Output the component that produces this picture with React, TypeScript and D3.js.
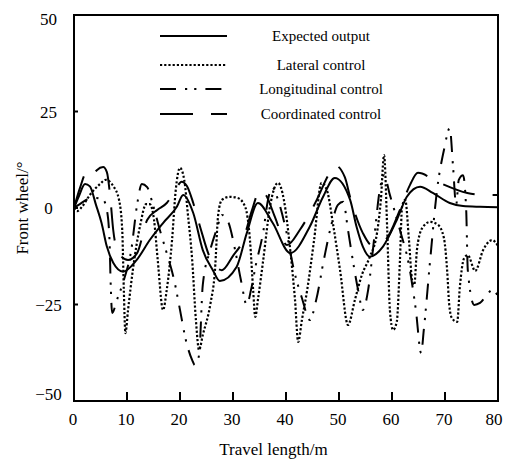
import React from "react";
import * as d3 from "d3";

const xTicks = [0, 10, 20, 30, 40, 50, 60, 70, 80];
const yTicks = [-50, -25, 0, 25, 50];

const seriesNames = ["Expected output", "Lateral control", "Longitudinal control", "Coordinated control"];

const expected: [number, number][] = [
  [0, 0], [0.94, 3.1], [2.08, 6.2], [3.0, 5.6], [4.15, 0.8], [5.2, -3.9], [6.2, -10.0], [7.4, -14.2],
  [9.25, -16.5], [11.8, -13.5], [14.3, -8.3], [16.8, -3.9], [19.4, 0.3], [20.6, 3.4], [22.5, -1.3],
  [24.3, -10.9], [26.2, -16.1], [27.5, -18.9], [30.7, -15.2], [32.6, -6.5], [34.7, 1.3], [37.5, -3.9],
  [40.8, -11.7], [44.5, -4.8], [47.0, 2.9], [49.2, 7.8], [52.1, 2.1], [53.3, -4.8], [54.5, -10.0],
  [55.8, -12.6], [58.3, -10.0], [60.9, -3.1], [62.8, 2.9], [65.3, 5.5], [67.7, 3.9], [70.9, 1.3],
  [73.4, 0.5], [76.6, 0.3], [80, 0.2],
];

const lateral: [number, number][] = [
  [0, 0], [0.57, -0.8], [1.5, 0.3], [3.0, 3.4], [4.9, 6.2], [6.0, 7.3], [7.4, 5.7], [8.5, 2.1],
  [9.1, -5.7], [9.4, -21.2], [9.7, -32.4], [10.2, -26.4], [11.1, -16.1], [12.5, -4.4], [13.6, 1.0],
  [14.3, 1.0], [15.1, -3.1], [15.8, -13.5], [16.8, -26.4], [17.5, -21.2], [18.5, -8.3], [19.2, 4.7],
  [20.0, 10.4], [20.8, 7.3], [21.5, -1.8], [22.3, -13.5], [23.0, -29.0], [23.6, -36.8], [24.3, -32.9],
  [25.7, -25.1], [26.6, -16.1], [27.2, -1.8], [27.9, 2.1], [29.4, 2.9], [30.9, 2.6], [32.3, 0.3],
  [33.2, -8.3], [33.8, -21.2], [34.2, -28.2], [34.7, -23.8], [35.7, -13.5], [37.0, 0.5], [38.5, 6.5],
  [39.6, 2.1], [40.8, -10.9], [41.7, -23.8], [42.3, -34.7], [43.0, -29.0], [44.0, -21.2], [45.3, -8.3],
  [46.7, 6.5], [47.7, 4.7], [48.9, -4.4], [50.2, -16.1], [51.7, -30.3], [53.0, -23.8], [54.3, -17.4],
  [55.8, -12.7], [57.2, -6.2], [57.9, 2.1], [58.5, 13.7], [59.1, -5.7], [59.6, -26.4], [60.2, -31.6],
  [60.9, -29.5], [61.5, -13.5], [61.9, 0.3], [62.5, 2.1], [63.2, -8.3], [63.8, -18.7], [64.2, -19.9],
  [64.7, -10.9], [65.7, -5.2], [67.2, -3.6], [68.7, -4.4], [69.8, -7.8], [70.4, -16.1], [70.8, -25.1],
  [71.3, -28.5], [72.3, -29.5], [72.8, -20.5], [73.6, -13.0], [74.3, -12.2], [75.7, -16.3],
  [77.2, -10.9], [78.9, -8.3], [80, -9.8],
];

const longitudinal: [number, number][] = [
  [0, 0], [1.1, 1.0], [2.6, 2.3], [4.2, 2.6], [5.5, 2.1], [6.2, -0.5], [6.7, -8.3], [6.9, -18.7],
  [7.2, -27.2], [8.1, -23.8], [9.4, -18.7], [10.8, -10.9], [11.9, 0.8], [12.8, 6.2], [13.8, 5.4],
  [14.9, 0.8], [16.2, -5.7], [17.5, -11.7], [18.9, -18.7], [20.0, -26.4], [21.1, -34.2], [22.3, -39.4],
  [22.8, -40.7], [23.6, -38.1], [24.3, -19.9], [25.7, -10.9], [27.0, -5.2], [27.9, -1.8], [29.1, -3.6],
  [30.4, -10.9], [31.5, -18.7], [32.6, -25.1], [33.4, -21.2], [34.3, -14.8], [35.7, -6.2], [36.6, 2.1],
  [37.4, 5.4], [38.5, 2.1], [40.0, -5.7], [41.5, -16.1], [43.0, -23.3], [44.5, -29.0], [45.7, -23.8],
  [47.2, -13.0], [48.7, -3.6], [49.8, 0.8], [50.8, 1.6], [51.7, -5.7], [52.6, -13.5], [53.6, -21.2],
  [54.5, -26.4], [55.5, -21.2], [56.6, -8.3], [57.7, 4.7], [58.5, 8.5], [59.6, 3.4], [61.5, -5.7],
  [63.2, -14.8], [64.5, -26.4], [65.5, -37.6], [66.0, -31.6], [67.2, -13.5], [68.5, 4.7], [69.8, 15.0],
  [70.9, 20.7], [71.5, 11.1], [72.1, 0.8], [72.6, 7.3], [73.4, 8.5], [74.0, -0.5], [74.3, -16.1],
  [75.5, -25.1], [76.6, -24.6], [77.9, -22.5], [78.9, -21.2], [80, -22.8],
];

const coordinated: [number, number][] = [
  [0, 0], [1.13, 5.2], [2.4, 9.3], [3.4, 8.3], [4.3, 9.8], [5.5, 10.6], [6.2, 9.3], [6.8, 3.4],
  [7.4, -5.7], [8.3, -11.4], [10.2, -13.5], [11.9, -11.7], [13.8, -3.1], [15.7, -0.5], [17.5, 1.3],
  [19.2, 4.9], [20.3, 6.8], [21.3, 5.7], [22.5, 1.3], [23.8, -4.9], [25.7, -13.0], [27.9, -16.1],
  [30.0, -12.4], [31.9, -8.3], [33.6, -0.5], [35.1, 4.7], [36.2, 3.4], [37.9, -2.3], [40.2, -9.6],
  [42.6, -5.7], [45.8, 2.1], [47.9, 8.3], [49.2, 11.1], [51.1, 8.0], [52.1, 2.8], [54.5, -6.5],
  [56.2, -9.6], [58.7, -8.3], [61.5, -0.5], [63.4, 6.0], [64.9, 9.1], [68.7, 6.7], [74.2, 3.9],
  [77.5, 3.4], [80, 3.4],
];

const series = [expected, lateral, longitudinal, coordinated];
const dashes = ["none", "2.2 2", "16 9 2.2 7 2.2 9", "33 18"];
const widths = [2, 2.2, 2, 2];
const legendRowY = [36, 65, 89, 114];

const W = 508;
const H = 461;
const FONT = '"Liberation Serif"';

export default function App() {
  const x = d3.scaleLinear().domain([0, 80]).range([74, 498]);
  const y = d3.scaleLinear().domain([-50, 50]).range([401, 15]);
  const line = d3
    .line<[number, number]>()
    .x((d) => x(d[0]))
    .y((d) => y(d[1]))
    .curve(d3.curveMonotoneX);

  const [x0, x1] = x.range();
  const [yb, yt] = y.range();
  const ts = { fontFamily: FONT } as React.CSSProperties;

  return (
    <svg width={W} height={H} style={{ position: "absolute", left: 0, top: 0, background: "#fff" }}>
      <rect x={0} y={0} width={W} height={H} fill="#fff" />
      {series.map((s, i) => (
        <path
          key={i}
          d={line(s) || ""}
          fill="none"
          stroke="#000"
          strokeWidth={widths[i]}
          strokeDasharray={dashes[i]}
          strokeLinejoin="round"
        />
      ))}
      <rect x={x0} y={yt} width={x1 - x0} height={yb - yt} fill="none" stroke="#000" strokeWidth={2} />
      {xTicks.map((t) => (
        <g key={"xt" + t}>
          {t > 0 && t < 80 && <line x1={x(t)} x2={x(t)} y1={yb} y2={yb - 9} stroke="#000" strokeWidth={2} />}
          <text x={Math.min(x(t) - 1, 494)} y={425} textAnchor="middle" fontSize={17} style={ts}>
            {t}
          </text>
        </g>
      ))}
      {yTicks.map((t) => (
        <g key={"yt" + t}>
          {t > -50 && t < 50 && <line x1={x0} x2={x0 + 4} y1={y(t)} y2={y(t)} stroke="#000" strokeWidth={2} />}
          <text
            x={48.5}
            y={Math.max(19, Math.min(394, y(t))) + 6}
            textAnchor="middle"
            fontSize={17}
            style={ts}
          >
            {t < 0 ? "\u2212" + Math.abs(t) : String(t)}
          </text>
        </g>
      ))}
      <text x={273.5} y={455} textAnchor="middle" fontSize={17} style={ts}>
        Travel length/m
      </text>
      <text transform={`translate(28, ${y(0)}) rotate(-90)`} textAnchor="middle" fontSize={17} style={ts}>
        Front wheel/°
      </text>
      {seriesNames.map((n, i) => (
        <g key={"lg" + i}>
          <line
            x1={160}
            x2={227}
            y1={legendRowY[i]}
            y2={legendRowY[i]}
            stroke="#000"
            strokeWidth={widths[i]}
            strokeDasharray={dashes[i]}
          />
          <text x={321} y={legendRowY[i] + 5} textAnchor="middle" fontSize={15} style={ts}>
            {n}
          </text>
        </g>
      ))}
    </svg>
  );
}
